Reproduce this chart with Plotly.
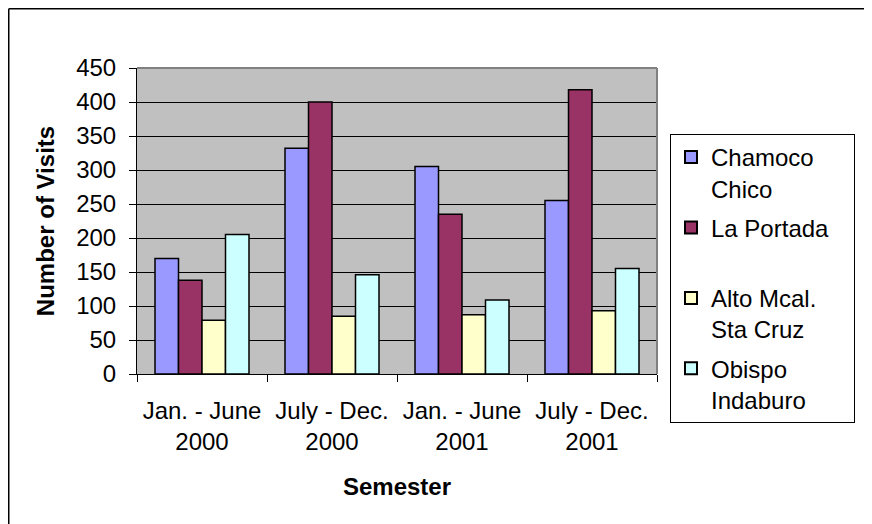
import plotly.graph_objects as go

categories = ["Jan. - June<br>2000", "July - Dec.<br>2000", "Jan. - June<br>2001", "July - Dec.<br>2001"]
series_names = ["Chamoco<br>Chico", "La Portada\u00a0\u00a0\u00a0<br> ", "Alto Mcal.<br>Sta Cruz", "Obispo<br>Indaburo"]
chamoco_chico = [170, 332, 305, 255]
la_portada = [138, 400, 235, 418]
alto_mcal = [79, 85, 87, 93]
obispo_indaburo = [205, 146, 109, 155]
colors = ["#9999FF", "#993366", "#FFFFCC", "#CCFFFF"]

FONT = "Liberation Sans, Arial, sans-serif"
FS = 24
OFF = 8  # page body margin
W, H = 872 - OFF, 524 - OFF
PL, PR, PT, PB = 137, 657, 68, 374  # plot area in page pixels

def px_x(x):
    return (x - PL) / (PR - PL)

def px_y(y):
    return (PB - y) / (PB - PT)

fig = go.Figure()
for i, (name, vals, col) in enumerate(zip(series_names, [chamoco_chico, la_portada, alto_mcal, obispo_indaburo], colors)):
    fig.add_trace(go.Bar(x=categories, y=vals, name=name, legendgroup=f"g{i}",
                         marker=dict(color=col, line=dict(color="black", width=1.5))))

fig.update_layout(
    width=W, height=H,
    margin=dict(l=PL - OFF, r=W + OFF - PR, t=PT - OFF, b=H + OFF - PB, autoexpand=False),
    paper_bgcolor="white", plot_bgcolor="#C0C0C0",
    barmode="group", bargap=0.277, bargroupgap=0,
    font=dict(family=FONT, size=FS, color="black"),
    showlegend=True,
    legend=dict(x=px_x(670), y=px_y(134), xanchor="left", yanchor="top",
                bordercolor="black", borderwidth=1, bgcolor="white",
                font=dict(size=FS), valign="top", tracegroupgap=5,
                itemsizing="constant"),
    xaxis=dict(showgrid=False, showline=True, linecolor="black", linewidth=1,
               ticks="outside", tickson="boundaries", ticklen=7, tickcolor="black",
               tickfont=dict(size=FS), automargin=False, ticklabelstandoff=15,
               title=dict(text="<b>Semester</b>", font=dict(size=FS), standoff=24)),
    yaxis=dict(range=[0, 450], tickvals=[0, 50, 100, 150, 200, 250, 300, 350, 400, 450],
               showgrid=True, gridcolor="black", gridwidth=1,
               showline=True, linecolor="black", linewidth=1,
               ticks="outside", ticklen=7, tickcolor="black",
               tickfont=dict(size=FS), automargin=False, zeroline=False, ticklabelstandoff=8,
               title=dict(text="<b>Number of Visits</b>", font=dict(size=FS), standoff=14)),
    shapes=[
        dict(type="line", xref="paper", yref="paper", x0=0, x1=1, y0=1, y1=1,
             line=dict(color="#808080", width=2)),
        dict(type="line", xref="paper", yref="paper", x0=1, x1=1, y0=0, y1=1,
             line=dict(color="#808080", width=2)),
        dict(type="line", xref="paper", yref="paper", x0=px_x(8.75), x1=px_x(872), y0=px_y(8.75), y1=px_y(8.75),
             line=dict(color="black", width=1.5)),
        dict(type="line", xref="paper", yref="paper", x0=px_x(8.75), x1=px_x(8.75), y0=px_y(8.75), y1=px_y(524),
             line=dict(color="black", width=1.5)),
    ],
)

fig.write_html("out.html")
